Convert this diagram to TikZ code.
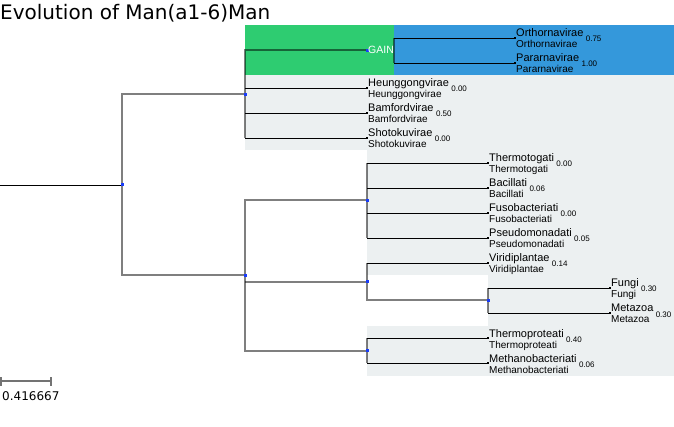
\documentclass[tikz,border=0pt]{standalone}
\usepackage{fontspec}
\setmainfont{Liberation Sans}
\newfontfamily\titlefont{DejaVu Sans}
\usepackage{tikz}
\usetikzlibrary{calc}
\definecolor{CClouds}{HTML}{ECF0F1}
\definecolor{CEmerald}{HTML}{2ECC71}
\definecolor{CRiver}{HTML}{3498DB}
\definecolor{NBlue}{RGB}{25,60,250}

\begin{document}
\begin{tikzpicture}[x=1pt,y=-1pt,
    inode/.style={fill=NBlue, inner sep=0pt, minimum size=3pt},
    leafdot/.style={fill=black, inner sep=0pt, minimum size=2.2pt},
    inbranch/.style={draw=black, draw opacity=0.5, line width=2pt},
    lfbranch/.style={draw=black, line width=0.9pt},
    bigname/.style={font=\fontsize{11}{13}\selectfont, inner sep=0pt, anchor=base west},
    smallname/.style={font=\fontsize{10}{12}\selectfont, inner sep=0pt, anchor=base west},
    valtext/.style={font=\fontsize{8}{10}\selectfont, inner sep=0pt, anchor=base west},
    scalebar/.style={draw=black!55, line width=1.2pt}]
  \useasboundingbox (0,0) rectangle (674,427);

  % title
  \node[font=\titlefont\fontsize{20}{24}\selectfont, inner sep=0pt, anchor=base west] (title) at (0,20) {Evolution of Man(a1-6)Man};

  % clade backgrounds
  \fill[CClouds] (245,75.5) rectangle (674,150.5);
  \fill[CClouds] (367,150.5) rectangle (674,275.5);
  \fill[CClouds] (488,275.5) rectangle (674,325.5);
  \fill[CClouds] (367,325.5) rectangle (674,375.5);
  \fill[CEmerald] (245,25.5) rectangle (394,75.5);
  \fill[CRiver] (394,25.5) rectangle (674,75.5);

  % internal nodes
  \coordinate (root) at (0,185);
  \coordinate (n0) at (122,185);
  \coordinate (nA) at (245,94.25);
  \coordinate (gain) at (367,50.5);
  \coordinate (gainv) at (394,50.5);
  \coordinate (nB) at (245,275.5);
  \coordinate (nBac) at (367,200.5);
  \coordinate (nEuk) at (367,281.75);
  \coordinate (nOpi) at (488,300.5);
  \coordinate (nArc) at (367,350.5);

  % leaves
  \foreach \nm/\lx/\ly/\val in {
      Orthornavirae/515/38/0.75, Pararnavirae/515/63/1.00,
      Heunggongvirae/367/88/0.00, Bamfordvirae/367/113/0.50, Shotokuvirae/367/138/0.00,
      Thermotogati/488/163/0.00, Bacillati/488/188/0.06, Fusobacteriati/488/213/0.00,
      Pseudomonadati/488/238/0.05, Viridiplantae/488/263/0.14,
      Fungi/610/288/0.30, Metazoa/610/313/0.30,
      Thermoproteati/488/338/0.40, Methanobacteriati/488/363/0.06}{
    \node[leafdot] (\nm) at (\lx,\ly) {};
    \node[bigname] (\nm-t) at (\lx+1,\ly-1) {\nm};
    \node[smallname] (\nm-s) at (\lx+1,\ly+10) {\nm};
    \node[valtext] (\nm-v) at ($(\nm-t.base east)+(2,5)$) {\val};
  }

  % branches
  \draw[lfbranch] (root) -- (n0);
  \draw[inbranch] (nA) -| (n0) |- (nB);
  \draw[inbranch] (gain) -| (nA |- Shotokuvirae);
  \foreach \c in {Heunggongvirae,Bamfordvirae,Shotokuvirae}
    \draw[lfbranch] (nA |- \c) -- (\c);
  \draw[inbranch] (gainv |- Orthornavirae) -- (gainv |- Pararnavirae);
  \foreach \c in {Orthornavirae,Pararnavirae}
    \draw[lfbranch] (gainv |- \c) -- (\c);
  \draw[inbranch] (nBac) -| (nB |- nArc) -- (nArc);
  \draw[inbranch] (nB |- nEuk) -- (nEuk);
  \draw[inbranch] (nBac |- Thermotogati) -- (nBac |- Pseudomonadati);
  \foreach \c in {Thermotogati,Bacillati,Fusobacteriati,Pseudomonadati}
    \draw[lfbranch] (nBac |- \c) -- (\c);
  \draw[inbranch] (nOpi) -| (nEuk |- Viridiplantae);
  \draw[lfbranch] (nEuk |- Viridiplantae) -- (Viridiplantae);
  \draw[inbranch] (nOpi |- Fungi) -- (nOpi |- Metazoa);
  \foreach \c in {Fungi,Metazoa}
    \draw[lfbranch] (nOpi |- \c) -- (\c);
  \draw[inbranch] (nArc |- Thermoproteati) -- (nArc |- Methanobacteriati);
  \foreach \c in {Thermoproteati,Methanobacteriati}
    \draw[lfbranch] (nArc |- \c) -- (\c);

  % node dots
  \foreach \p in {n0,nA,gain,nB,nBac,nEuk,nOpi,nArc}
    \node[inode] at (\p) {};
  \node[font=\fontsize{10.5}{12}\selectfont, text=white, inner sep=0pt, anchor=base west] (gainlbl) at (368,54) {GAIN};

  % scale bar
  \coordinate (sbL) at (1,381);
  \coordinate (sbR) at (51,381);
  \draw[scalebar] (sbL) -- (sbR);
  \draw[scalebar] ([yshift=4pt]sbL) -- ([yshift=-5pt]sbL);
  \draw[scalebar] ([yshift=4pt]sbR) -- ([yshift=-5pt]sbR);
  \node[font=\titlefont\fontsize{12}{14}\selectfont, inner sep=0pt, anchor=base west] (sblbl) at (2,400) {0.416667};
\end{tikzpicture}
\end{document}
